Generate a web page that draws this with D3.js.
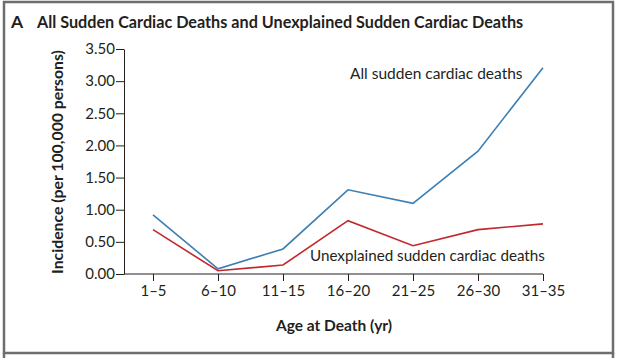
<!DOCTYPE html>
<html><head><meta charset="utf-8">
<script src="https://cdn.jsdelivr.net/npm/d3@7"></script>
<style>body{margin:0;background:#fff;}svg{display:block;}</style>
</head><body>
<script>
const categories = ["1–5","6–10","11–15","16–20","21–25","26–30","31–35"];
const allDeaths = [0.92, 0.08, 0.39, 1.31, 1.10, 1.91, 3.21];
const unexplained = [0.69, 0.05, 0.14, 0.83, 0.44, 0.69, 0.78];
const yTicks = [0, 0.5, 1.0, 1.5, 2.0, 2.5, 3.0, 3.5];

const W = 617, H = 358;
const font = "Lato, 'Open Sans', sans-serif";
const svg = d3.select("body").append("svg").attr("width", W).attr("height", H);

// frame
svg.append("rect").attr("x",4).attr("y",2).attr("width",609).attr("height",351)
  .attr("fill","none").attr("stroke","#6e6e6e").attr("stroke-width",2.5);
[4,613].forEach(x=>svg.append("line").attr("x1",x).attr("x2",x).attr("y1",353).attr("y2",358)
  .attr("stroke","#6e6e6e").attr("stroke-width",2.5));

// title
svg.append("text").attr("x",11).attr("y",28).attr("font-family",font).attr("font-weight",700)
  .attr("font-size",17.5).attr("fill","#231f20").text("A");
svg.append("text").attr("x",37).attr("y",28).attr("font-family",font).attr("font-weight",700)
  .attr("font-size",16.2).attr("fill","#231f20").text("All Sudden Cardiac Deaths and Unexplained Sudden Cardiac Deaths");

const x = d3.scalePoint().domain(categories).range([153, 543]);
const y = d3.scaleLinear().domain([0, 3.5]).range([274, 49]);

// y axis
const yAxis = svg.append("g").attr("transform","translate(124,0)")
  .call(d3.axisLeft(y).tickValues(yTicks).tickFormat(d3.format(".2f")).tickSize(8).tickPadding(1).tickSizeOuter(0));
yAxis.select(".domain").attr("stroke","#231f20");
yAxis.selectAll(".tick line").attr("stroke","#231f20");
yAxis.selectAll(".tick text").attr("font-family",font).attr("font-size",15).attr("fill","#231f20");

// x axis
const xAxis = svg.append("g").attr("transform","translate(0,274)")
  .call(d3.axisBottom(x).tickSize(7).tickPadding(4).tickSizeOuter(0));
xAxis.select(".domain").attr("d","M124,0H543").attr("stroke","#231f20");
xAxis.selectAll(".tick line").attr("stroke","#231f20");
xAxis.selectAll(".tick text").attr("font-family",font).attr("font-size",15).attr("fill","#231f20");

// axis titles
svg.append("text").attr("x",334).attr("y",331).attr("text-anchor","middle")
  .attr("font-family",font).attr("font-weight",700).attr("font-size",15.5).attr("fill","#231f20")
  .text("Age at Death (yr)");
svg.append("text").attr("transform","translate(63,162) rotate(-90)").attr("text-anchor","middle")
  .attr("font-family",font).attr("font-weight",700).attr("font-size",15.8).attr("fill","#231f20")
  .text("Incidence (per 100,000 persons)");

// lines
const line = d3.line().x((d,i)=>x(categories[i])).y(d=>y(d));
svg.append("path").datum(allDeaths).attr("d",line).attr("fill","none")
  .attr("stroke","#3c7fb3").attr("stroke-width",1.6);
svg.append("path").datum(unexplained).attr("d",line).attr("fill","none")
  .attr("stroke","#c0282d").attr("stroke-width",1.6);

// labels
svg.append("text").attr("x",350).attr("y",79).attr("font-family",font).attr("font-size",15.5)
  .attr("fill","#231f20").text("All sudden cardiac deaths");
svg.append("text").attr("x",310).attr("y",261).attr("font-family",font).attr("font-size",15.2)
  .attr("fill","#231f20").text("Unexplained sudden cardiac deaths");
</script>
</body></html>
